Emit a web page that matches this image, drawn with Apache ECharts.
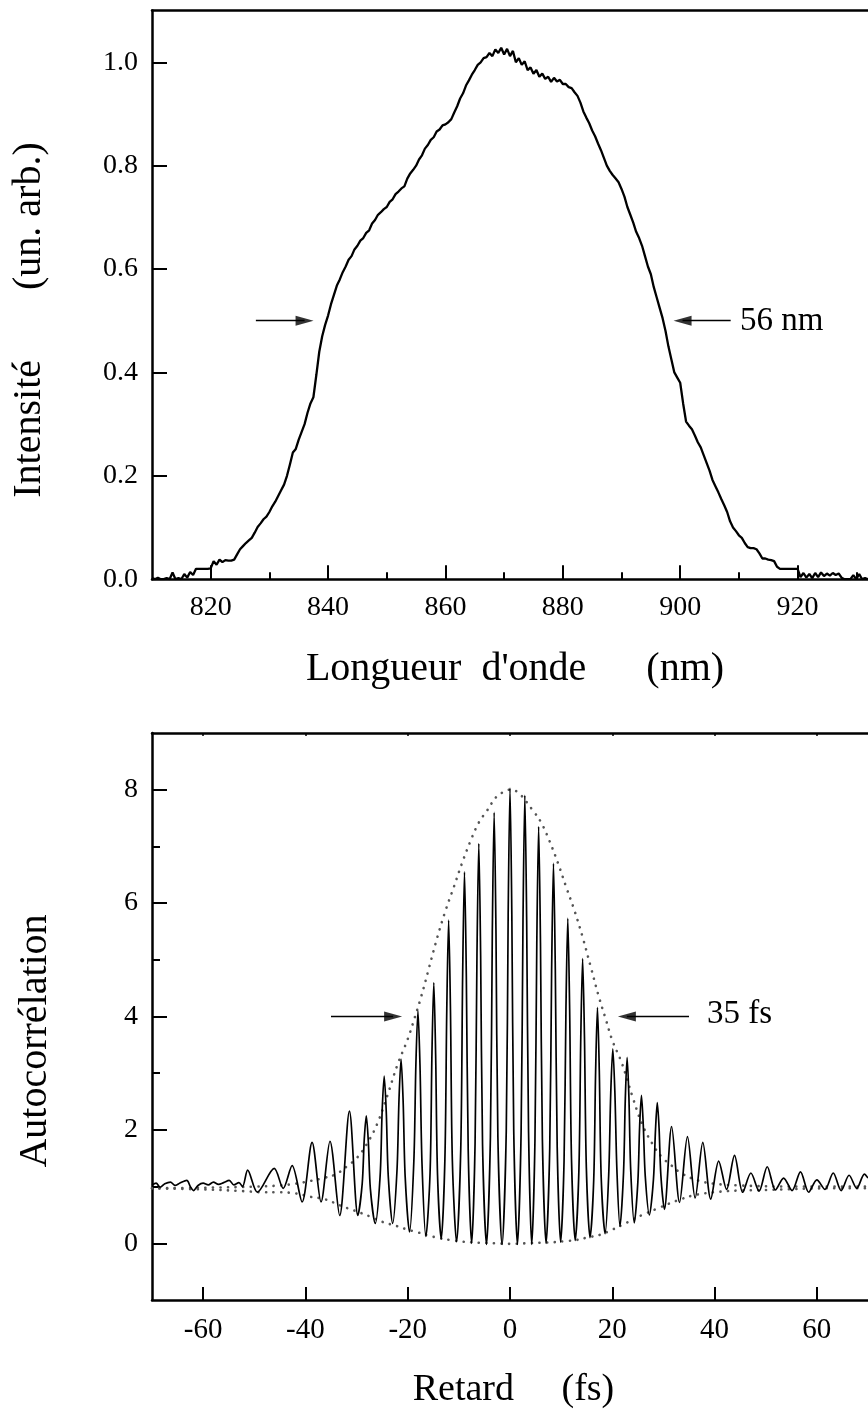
<!DOCTYPE html>
<html><head><meta charset="utf-8">
<script src="https://cdn.jsdelivr.net/npm/echarts@6/dist/echarts.min.js"></script>
<style>html,body{margin:0;padding:0;background:#fff}#c{width:868px;height:1412px}</style>
</head><body><div id="c"></div>
<script>
// ---------- Top chart: spectrum ----------
const wavelength = [
810,810.5,811,811.5,812,812.5,813,813.5,814,814.5,
815,815.5,816,816.5,817,817.5,818,818.5,819,819.5,
820,820.5,821,821.5,822,822.5,823,823.5,824,824.5,
825,825.5,826,826.5,827,827.5,828,828.5,829,829.5,
830,830.5,831,831.5,832,832.5,833,833.5,834,834.5,
835,835.5,836,836.5,837,837.5,838,838.5,839,839.5,
840,840.5,841,841.5,842,842.5,843,843.5,844,844.5,
845,845.5,846,846.5,847,847.5,848,848.5,849,849.5,
850,850.5,851,851.5,852,852.5,853,853.5,854,854.5,
855,855.5,856,856.5,857,857.5,858,858.5,859,859.5,
860,860.5,861,861.5,862,862.5,863,863.5,864,864.5,
865,865.5,866,866.5,867,867.5,868,868.5,869,869.5,
870,870.5,871,871.5,872,872.5,873,873.5,874,874.5,
875,875.5,876,876.5,877,877.5,878,878.5,879,879.5,
880,880.5,881,881.5,882,882.5,883,883.5,884,884.5,
885,885.5,886,886.5,887,887.5,888,888.5,889,889.5,
890,890.5,891,891.5,892,892.5,893,893.5,894,894.5,
895,895.5,896,896.5,897,897.5,898,898.5,899,899.5,
900,900.5,901,901.5,902,902.5,903,903.5,904,904.5,
905,905.5,906,906.5,907,907.5,908,908.5,909,909.5,
910,910.5,911,911.5,912,912.5,913,913.5,914,914.5,
915,915.5,916,916.5,917,917.5,918,918.5,919,919.5,
920,920.5,921,921.5,922,922.5,923,923.5,924,924.5,
925,925.5,926,926.5,927,927.5,928,928.5,929,929.5,
930,930.5,931,931.5,932];
const intensity = [
0.002,0.0,0.003,0.0,0.0,0.002,0.0,0.013,0.0,0.002,
0.0,0.01,0.003,0.014,0.008,0.02,0.02,0.02,0.02,0.02,
0.021,0.035,0.028,0.038,0.033,0.037,0.036,0.036,0.038,0.048,
0.058,0.064,0.07,0.075,0.08,0.09,0.101,0.108,0.116,0.121,
0.13,0.141,0.15,0.161,0.172,0.183,0.2,0.222,0.245,0.252,
0.27,0.285,0.3,0.322,0.34,0.352,0.395,0.44,0.47,0.492,
0.51,0.532,0.55,0.568,0.58,0.594,0.605,0.618,0.625,0.638,
0.645,0.655,0.66,0.67,0.675,0.688,0.695,0.705,0.71,0.716,
0.72,0.73,0.735,0.745,0.75,0.756,0.76,0.775,0.785,0.792,
0.8,0.812,0.82,0.833,0.84,0.85,0.855,0.866,0.87,0.878,
0.88,0.884,0.89,0.903,0.915,0.93,0.94,0.955,0.965,0.976,
0.985,0.995,1.0,1.008,1.01,1.018,1.012,1.025,1.018,1.028,
1.015,1.026,1.012,1.022,1.0,1.008,0.995,1.002,0.985,0.99,
0.978,0.985,0.972,0.978,0.968,0.972,0.962,0.97,0.963,0.966,
0.958,0.958,0.952,0.95,0.942,0.935,0.922,0.905,0.893,0.882,
0.868,0.857,0.843,0.83,0.815,0.8,0.79,0.782,0.775,0.768,
0.755,0.74,0.72,0.705,0.69,0.672,0.66,0.645,0.625,0.605,
0.59,0.565,0.545,0.525,0.505,0.48,0.45,0.425,0.4,0.39,
0.38,0.34,0.305,0.297,0.29,0.278,0.265,0.255,0.24,0.225,
0.21,0.192,0.18,0.168,0.155,0.143,0.13,0.112,0.1,0.093,
0.085,0.08,0.07,0.062,0.06,0.06,0.058,0.05,0.04,0.04,
0.038,0.037,0.035,0.024,0.02,0.02,0.02,0.02,0.02,0.02,
0.02,0.004,0.012,0.003,0.01,0.002,0.012,0.004,0.013,0.006,
0.011,0.007,0.012,0.008,0.011,0.003,0.0,0.0,0.0,0.008,
0.0,0.01,0.0,0.002,0.0];
const spectrumXLabels = [820,840,860,880,900,920];
const spectrumXMinor = [830,850,870,890,910,930];
const spectrumYLabels = [0,0.2,0.4,0.6,0.8,1.0];
// FWHM arrows at half maximum: [tail, head centre] in nm
const spectrumArrowLeft = [827.7, 836.0];
const spectrumArrowRight = [908.6, 900.4];
const spectrumHalf = 0.5;
const spectrumNote = '56 nm';

// ---------- Bottom chart: autocorrelation ----------
const delayLabels = [-60,-40,-20,0,20,40,60];
const autoYLabels = [0,2,4,6,8];
const autoYMinor = [1,3,5,7];
const autocorr = [
[-70,1.03],[-69.2,1.06],[-68.4,0.99],[-67.5,1.05],[-66.4,1.08],[-65.5,1.02],[-64.6,1.06],[-63.2,1.11],[-62.5,1.0],[-61.9,0.93],
[-61,1.02],[-60,1.06],[-59,1.03],[-58,1.08],[-57,1.04],[-56,1.07],[-54.9,1.11],[-54,1.03],[-53,1.07],[-52.3,1.0],
[-51.3,1.29],[-49.4,0.9],[-46.1,1.32],[-44.35,0.97],[-42.6,1.37],[-40.65,0.73],[-38.7,1.78],[-36.95,0.73],[-35.2,1.8],[-33.3,0.49],[-31.4,2.33],[-29.75,0.49],
[-28.9,1.05],[-28.5,1.83],[-28.1,2.25],[-27.7,1.79],[-27.3,0.96],[-26.35,0.35],
[-25.4,1.18],[-25.0,2.33],[-24.6,2.95],[-24.2,2.33],[-23.8,1.18],[-22.95,0.35],
[-22.1,1.28],[-21.7,2.55],[-21.3,3.25],[-20.9,2.52],[-20.5,1.18],[-19.65,0.2],
[-18.8,1.45],[-18.4,3.16],[-18,4.1],[-17.6,3.14],[-17.2,1.39],[-16.45,0.12],
[-15.63,1.24],[-15.26,3.35],[-14.9,4.6],[-14.54,3.33],[-14.17,1.21],[-13.45,0.08],
[-12.73,1.48],[-12.36,4.13],[-12,5.7],[-11.64,4.11],[-11.27,1.45],[-10.45,0.03],
[-9.63,1.66],[-9.26,4.72],[-8.9,6.55],[-8.54,4.72],[-8.17,1.64],[-7.5,0.0],
[-6.83,1.76],[-6.46,5.08],[-6.1,7.05],[-5.74,5.07],[-5.37,1.75],[-4.6,-0.02],
[-3.83,1.88],[-3.46,5.47],[-3.1,7.6],[-2.74,5.47],[-2.37,1.88],[-1.55,-0.02],
[-0.73,1.99],[-0.36,5.78],[0,8.03],[0.36,5.78],[0.73,1.99],[1.45,-0.02],
[2.17,1.96],[2.54,5.68],[2.9,7.9],[3.26,5.68],[3.63,1.96],[4.25,-0.02],
[4.88,1.82],[5.24,5.29],[5.6,7.35],[5.96,5.29],[6.33,1.84],[7.05,0.0],
[7.77,1.68],[8.14,4.82],[8.5,6.7],[8.86,4.83],[9.23,1.69],[9.9,0.02],
[10.57,1.45],[10.94,4.13],[11.3,5.73],[11.66,4.14],[12.03,1.47],[12.75,0.05],
[13.47,1.29],[13.84,3.63],[14.2,5.02],[14.56,3.64],[14.93,1.33],[15.65,0.1],
[16.37,1.12],[16.74,3.02],[17.1,4.16],[17.46,3.04],[17.83,1.17],[18.6,0.17],
[19.3,1.21],[19.7,2.65],[20.1,3.43],[20.5,2.68],[20.9,1.3],[21.5,0.3],
[22.2,1.25],[22.55,2.56],[22.9,3.28],[23.25,2.58],[23.6,1.3],[24.3,0.36],
[25.0,1.08],[25.35,2.07],[25.7,2.61],[26.05,2.1],[26.45,1.18],[27.25,0.5],
[28.05,1.13],[28.45,2.0],[28.8,2.48],[29.15,2.03],[29.5,1.2],[30.2,0.6],
[31.6,2.06],[33.15,0.72],[34.7,1.88],[36.2,0.8],[37.7,1.78],[39.25,0.78],[40.8,1.45],[42.35,0.95],
[43.9,1.55],[45.5,0.9],[47.1,1.24],[48.7,0.92],[50.3,1.35],[51.9,0.94],[53.5,1.15],[55.15,0.93],
[56.8,1.26],[58.4,0.9],[60.0,1.12],[61.6,0.95],[63.2,1.24],[64.75,0.93],[66.3,1.2],[67.8,0.97],[69.3,1.22],[70,1.15]];
const envelopeUpper = [
[-70,0.97],[-60,0.98],[-50,1.0],[-45,1.02],[-42,1.05],[-39,1.1],[-36.5,1.15],[-34,1.22],[-32,1.35],[-30,1.5],
[-28,1.75],[-26,2.1],[-24,2.6],[-22,3.15],[-20,3.6],[-18.7,3.96],[-17.4,4.34],[-15.8,4.87],[-14.2,5.4],[-12.6,5.87],
[-11,6.28],[-9.4,6.7],[-7.7,7.1],[-6.1,7.42],[-4.5,7.63],[-2.6,7.88],[-1,7.97],[0,8.0],[1.6,7.95],[4.5,7.63],
[6.1,7.42],[7.7,7.1],[9.4,6.7],[11,6.28],[12.6,5.87],[14.2,5.4],[15.8,4.87],[17.4,4.34],[18.7,3.96],[20,3.58],
[21.9,3.17],[23.9,2.6],[25.8,2.11],[27.8,1.76],[29.7,1.52],[31.6,1.37],[33.6,1.23],[36.7,1.11],[40,1.05],[45,1.02],
[55,1.0],[70,1.0]];
const envelopeLower = [
[-70,0.97],[-60,0.95],[-52,0.92],[-48,0.9],[-45.3,0.9],[-42,0.88],[-39,0.82],[-36.3,0.78],[-33,0.66],[-31.8,0.62],
[-29,0.53],[-27.3,0.47],[-25,0.38],[-22,0.3],[-20,0.24],[-18.3,0.2],[-16,0.14],[-13.8,0.09],[-11,0.05],[-9.4,0.03],
[-6,0.01],[-3,0.0],[0,-0.01],[3,0.0],[6,0.01],[8.7,0.02],[11,0.04],[13.1,0.06],[15,0.1],[17.6,0.15],
[20,0.24],[22.1,0.33],[24,0.42],[26.6,0.53],[29,0.62],[31.1,0.7],[33.5,0.78],[35.6,0.84],[38,0.88],[41,0.91],
[44.6,0.93],[50,0.94],[62.5,0.97],[70,0.97]];
// FWHM arrows at half of the peak: [tail, head centre] in fs
const autoArrowLeft = [-35, -22.85];
const autoArrowRight = [35, 22.85];
const autoHalf = 4;
const autoNote = '35 fs';

// ---------- build ----------
const FONT = "'Liberation Serif','Times New Roman',serif";
const chart = echarts.init(document.getElementById('c'), null, {renderer:'canvas'});
const spectrumData = wavelength.map((w,i)=>[w, intensity[i]]);
const AX = {color:'#000', width:2.5};

function arrowShafts(pairs, half){
  return {
    silent:true, animation:false, symbol:['none','none'],
    lineStyle:{color:'#000', width:1.3, type:'solid'},
    label:{show:false}, emphasis:{disabled:true},
    data: pairs.map(p=>[{coord:[p[0],half]},{coord:[p[1],half]}])
  };
}
function arrowHeads(pairs, half, xi, yi){
  return {
    type:'scatter', xAxisIndex:xi, yAxisIndex:yi, silent:true,
    symbol:'triangle', symbolSize:[10,18],
    itemStyle:{color:'#000'},
    data: pairs.map(p=>({value:[p[1],half], symbolRotate: p[1] > p[0] ? -90 : 90}))
  };
}

const option = {
  animation:false,
  backgroundColor:'#fff',
  grid:[
    {left:152, top:10.6, height:568.6, right:0, containLabel:false},
    {left:152, top:733, height:567, right:-7, containLabel:false}
  ],
  xAxis:[
    {gridIndex:0, type:'value', min:810, max:932, position:'bottom',
     axisLine:{onZero:false, lineStyle:AX}, splitLine:{show:false},
     axisTick:{inside:true, length:14, lineStyle:{color:'#000',width:2}, customValues:spectrumXLabels},
     axisLabel:{customValues:spectrumXLabels, color:'#000', fontFamily:FONT, fontSize:28, margin:14}},
    {gridIndex:0, type:'value', min:810, max:932, position:'bottom',
     axisLine:{show:false, onZero:false}, splitLine:{show:false},
     axisTick:{inside:true, length:7, lineStyle:{color:'#000',width:2}, customValues:spectrumXMinor},
     axisLabel:{show:false}},
    {gridIndex:0, type:'value', min:810, max:932, position:'top',
     axisLine:{onZero:false, lineStyle:AX}, splitLine:{show:false}, axisTick:{show:false}, axisLabel:{show:false}},
    {gridIndex:1, type:'value', min:-70, max:70, position:'bottom',
     axisLine:{onZero:false, lineStyle:AX}, splitLine:{show:false},
     axisTick:{inside:true, length:13, lineStyle:{color:'#000',width:2}, customValues:delayLabels},
     axisLabel:{customValues:delayLabels, color:'#000', fontFamily:FONT, fontSize:29, margin:16}},
    {gridIndex:1, type:'value', min:-70, max:70, position:'top',
     axisLine:{onZero:false, lineStyle:AX}, splitLine:{show:false},
     axisTick:{inside:true, length:3, lineStyle:{color:'#000',width:1.5}, customValues:delayLabels},
     axisLabel:{show:false}}
  ],
  yAxis:[
    {gridIndex:0, type:'value', min:0, max:1.1, position:'left',
     axisLine:{show:true, onZero:false, lineStyle:AX}, splitLine:{show:false},
     axisTick:{show:true, inside:true, length:15, lineStyle:{color:'#000',width:2}, customValues:spectrumYLabels},
     axisLabel:{customValues:spectrumYLabels, formatter:v=>Number(v).toFixed(1), color:'#000', fontFamily:FONT, fontSize:28, margin:14}},
    {gridIndex:1, type:'value', min:-1, max:9, position:'left',
     axisLine:{show:true, onZero:false, lineStyle:AX}, splitLine:{show:false},
     axisTick:{show:true, inside:true, length:15, lineStyle:{color:'#000',width:2}, customValues:autoYLabels},
     axisLabel:{customValues:autoYLabels, color:'#000', fontFamily:FONT, fontSize:28, margin:14}},
    {gridIndex:1, type:'value', min:-1, max:9, position:'left',
     axisLine:{show:false, onZero:false}, splitLine:{show:false},
     axisTick:{show:true, inside:true, length:8, lineStyle:{color:'#000',width:2}, customValues:autoYMinor},
     axisLabel:{show:false}}
  ],
  series:[
    {type:'line', xAxisIndex:0, yAxisIndex:0, data:spectrumData, showSymbol:false, symbol:'none',
     lineStyle:{color:'#000', width:2.3}, silent:true,
     markLine: arrowShafts([spectrumArrowLeft, spectrumArrowRight], spectrumHalf)},
    arrowHeads([spectrumArrowLeft, spectrumArrowRight], spectrumHalf, 0, 0),
    {type:'line', xAxisIndex:3, yAxisIndex:1, data:envelopeUpper, showSymbol:false, symbol:'none', smooth:0.4,
     lineStyle:{color:'#555', width:2.6, type:[0.1,7.5], cap:'round'}, silent:true},
    {type:'line', xAxisIndex:3, yAxisIndex:1, data:envelopeLower, showSymbol:false, symbol:'none', smooth:0.4,
     lineStyle:{color:'#555', width:2.6, type:[0.1,7.5], cap:'round'}, silent:true},
    {type:'line', xAxisIndex:3, yAxisIndex:1, data:autocorr, showSymbol:false, symbol:'none', smooth:0.3,
     lineStyle:{color:'#000', width:1.7}, silent:true,
     markLine: arrowShafts([autoArrowLeft, autoArrowRight], autoHalf)},
    arrowHeads([autoArrowLeft, autoArrowRight], autoHalf, 3, 1)
  ],
  graphic:[
    {type:'text', x:29, y:320, rotation:Math.PI/2, silent:true,
     style:{text:'Intensité       (un. arb.)', font:'40px '+FONT, fill:'#000', textAlign:'center', textVerticalAlign:'middle'}},
    {type:'text', x:515, y:669, silent:true,
     style:{text:"Longueur  d'onde      (nm)", font:'40px '+FONT, fill:'#000', textAlign:'center', textVerticalAlign:'middle'}},
    {type:'text', x:740, y:321, silent:true,
     style:{text:spectrumNote, font:'33px '+FONT, fill:'#000', textAlign:'left', textVerticalAlign:'middle'}},
    {type:'text', x:35, y:1041, rotation:Math.PI/2, silent:true,
     style:{text:'Autocorrélation', font:'40px '+FONT, fill:'#000', textAlign:'center', textVerticalAlign:'middle'}},
    {type:'text', x:513.5, y:1390, silent:true,
     style:{text:'Retard     (fs)', font:'38px '+FONT, fill:'#000', textAlign:'center', textVerticalAlign:'middle'}},
    {type:'text', x:707, y:1014, silent:true,
     style:{text:autoNote, font:'33px '+FONT, fill:'#000', textAlign:'left', textVerticalAlign:'middle'}}
  ]
};
chart.setOption(option);
</script>
</body></html>
